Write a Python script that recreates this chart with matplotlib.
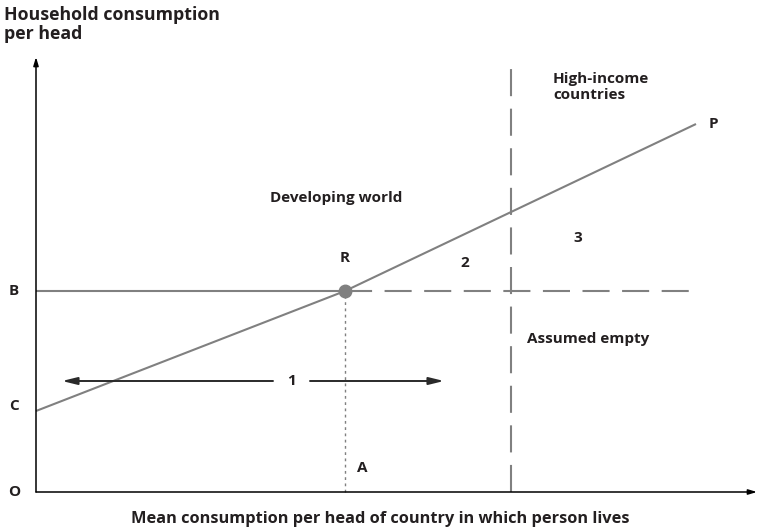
import matplotlib.pyplot as plt

plt.rcParams['font.family'] = ['Open Sans', 'DejaVu Sans']

# schematic coordinates (origin O at bottom-left of the diagram)
x_axis_end = 721
y_axis_end = 435
point_C = (0, 81)
point_R = (309, 201)
point_P = (660, 368)
level_B = 201
x_high_income = 475
dash_top = 426
dash_right = 660
arrow1_y = 111
arrow1_x = (26, 408)

txt = '#231f20'
gray = '#808080'

fig = plt.figure(figsize=(7.59, 5.32), dpi=100)
ax = fig.add_axes([0, 0, 1, 1])
ax.set_xlim(-36, 723)
ax.set_ylim(-40, 492)
ax.axis('off')

# axes with arrows
axis_arrow = dict(arrowstyle='-|>,head_length=0.5,head_width=0.15', lw=1.1, color='black',
                  shrinkA=0, shrinkB=0)
ax.annotate('', xy=(0, y_axis_end), xytext=(0, 0), arrowprops=axis_arrow)
ax.annotate('', xy=(x_axis_end, 0), xytext=(0, 0), arrowprops=axis_arrow)

# B line (solid up to R, dashed beyond)
ax.plot([0, point_R[0]], [level_B, level_B], color=gray, lw=1.5, solid_capstyle='butt')
ax.plot([point_R[0], dash_right], [level_B, level_B], color=gray, lw=1.5, linestyle=(0, (13, 6)))

# high-income boundary
ax.plot([x_high_income, x_high_income], [0, dash_top], color=gray, lw=1.5, linestyle=(0, (13, 6)))

# dotted line R -> A
ax.plot([point_R[0], point_R[0]], [0, level_B], color=gray, lw=1.0, linestyle=(0, (2, 2.5)))

# line C - R - P
ax.plot([point_C[0], point_R[0], point_P[0]], [point_C[1], point_R[1], point_P[1]],
        color=gray, lw=1.5, solid_capstyle='butt')
ax.plot([point_R[0]], [point_R[1]], 'o', color=gray, markersize=9, zorder=5)

# double arrow "1"
for xs, xe in [(237, arrow1_x[0]), (274, arrow1_x[1])]:
    ax.annotate('', xy=(xe, arrow1_y), xytext=(xs, arrow1_y),
                arrowprops=dict(arrowstyle='-|>,head_length=0.9,head_width=0.22', lw=1.4, color='#2a2a2a',
                                shrinkA=0, shrinkB=0))

fs = 11
kw = dict(color=txt, fontsize=fs, fontweight='bold')
ax.text(256, arrow1_y, '1', ha='center', va='center', **kw)
ax.text(-22, level_B, 'B', ha='center', va='center', **kw)
ax.text(-22, 86, 'C', ha='center', va='center', **kw)
ax.text(-22, 0, 'O', ha='center', va='center', **kw)
ax.text(326, 24, 'A', ha='center', va='center', **kw)
ax.text(309, 234, 'R', ha='center', va='center', **kw)
ax.text(429, 229, '2', ha='center', va='center', **kw)
ax.text(542, 254, '3', ha='center', va='center', **kw)
ax.text(677, 368, 'P', ha='center', va='center', **kw)
ax.text(300, 294, 'Developing world', ha='center', va='center', **kw)
ax.text(517, 405, 'High-income\ncountries', ha='left', va='center', linespacing=1.1, **kw)
ax.text(491, 153, 'Assumed empty', ha='left', va='center', **kw)
ax.text(-32, 486, 'Household consumption\nper head', ha='left', va='top', linespacing=1.05,
        color=txt, fontsize=12.8, fontweight='bold')
ax.text(344, -27, 'Mean consumption per head of country in which person lives',
        ha='center', va='center', color=txt, fontsize=11.8, fontweight='bold')

fig.savefig('out.png', dpi=100)
